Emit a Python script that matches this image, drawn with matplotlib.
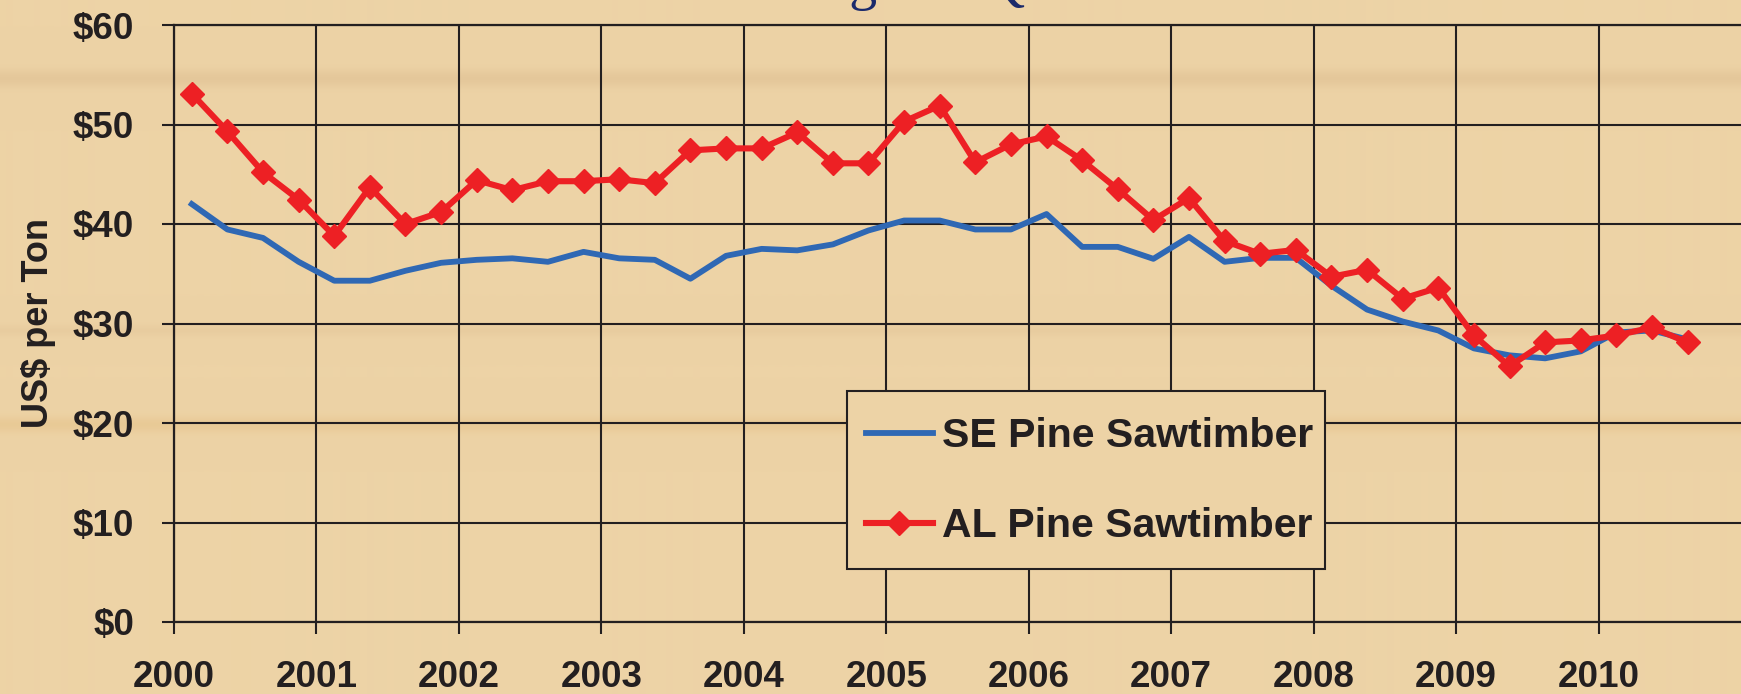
import matplotlib
matplotlib.use("Agg")
import matplotlib.pyplot as plt
from matplotlib.patches import Rectangle
import numpy as np

# ---------------- data ----------------
years = list(range(2000, 2011))
quarter_year = [y for y in range(2000, 2011) for _ in range(4)][:43]
quarter_num = [q for _ in range(2000, 2011) for q in (1, 2, 3, 4)][:43]

se_pine = [42.0, 39.45, 38.6, 36.2,
           34.3, 34.3, 35.3, 36.1,
           36.4, 36.55, 36.2, 37.2,
           36.55, 36.4, 34.5, 36.8,
           37.5, 37.35, 37.95, 39.35,
           40.35, 40.35, 39.45, 39.45,
           41.0, 37.7, 37.7, 36.5,
           38.7, 36.2, 36.6, 36.6,
           33.8, 31.4, 30.2, 29.3,
           27.5, 26.8, 26.5, 27.2,
           29.1, 29.3, 28.4]

al_pine = [53.1, 49.3, 45.2, 42.45,
           38.8, 43.7, 40.0, 41.2,
           44.4, 43.4, 44.3, 44.3,
           44.5, 44.1, 47.4, 47.6,
           47.6, 49.2, 46.1, 46.1,
           50.3, 51.9, 46.2, 48.0,
           48.8, 46.4, 43.5, 40.4,
           42.6, 38.3, 37.0, 37.4,
           34.7, 35.4, 32.5, 33.6,
           28.8, 25.7, 28.1, 28.3,
           28.8, 29.6, 28.1]

y_ticks = [0, 10, 20, 30, 40, 50, 60]
y_tick_labels = ["$0", "$10", "$20", "$30", "$40", "$50", "$60"]
series_names = ["SE Pine Sawtimber", "AL Pine Sawtimber"]
title_text = "Pine Sawtimber Pricing and Quarter Trends"
y_label = "US$ per Ton"

# ---------------- style ----------------
BG = "#EDD3A6"
INK = "#231F20"
BLUE = "#2F68B4"
RED = "#ED2024"
NAVY = "#1B2A6B"
FONT = "Liberation Sans"

W, H = 1741, 694
fig = plt.figure(figsize=(W / 100, H / 100), dpi=100, facecolor=BG)

# subtle wood-grain background bands (vertical colour profile)
bg_ax = fig.add_axes([0, 0, 1, 1], zorder=0)
bg_ax.axis("off")
rows = np.arange(H)
base = np.array([237, 211, 166], dtype=float) / 255.0
dark = np.array([222, 190, 145], dtype=float) / 255.0
orange = np.array([230, 196, 140], dtype=float) / 255.0
prof = np.zeros((H, 1, 3))
w1 = 0.55 * np.exp(-((rows - 78) / 9.0) ** 2)
w2 = 0.60 * np.exp(-((rows - 424) / 8.0) ** 2)
w3 = 0.30 * np.exp(-((rows - 330) / 6.0) ** 2)
for c in range(3):
    prof[:, 0, c] = base[c] * (1 - w1 - w2 - w3) + dark[c] * (w1 + w3) + orange[c] * w2
bg_ax.imshow(prof, aspect="auto", extent=[0, 1, 0, 1], interpolation="bilinear")
bg_ax.set_xlim(0, 1)
bg_ax.set_ylim(0, 1)

left, right, top, bottom = 174, 1741, 25, 622
aw, ah = right - left, bottom - top
ax = fig.add_axes([left / W, 1 - bottom / H, aw / W, ah / H], zorder=1)
ax.patch.set_alpha(0)

x = [qy + (qn - 0.5) / 4.0 for qy, qn in zip(quarter_year, quarter_num)]

ax.plot(x, se_pine, color=BLUE, lw=4.2, label=series_names[0], zorder=3)
ax.plot(x, al_pine, color=RED, lw=4.4, marker="D", ms=12, mec=RED, mew=1,
        label=series_names[1], zorder=4)

ax.set_xlim(2000, 2011)
ax.set_ylim(0, 60)
ax.set_xticks(years)
ax.set_xticklabels([str(y) for y in years])
ax.set_yticks(y_ticks)
ax.set_yticklabels(y_tick_labels)

ax.grid(True, color=INK, lw=1.5, zorder=1)
ax.set_axisbelow(True)
for s in ["left", "bottom", "top"]:
    ax.spines[s].set_color(INK)
    ax.spines[s].set_linewidth(1.6)
ax.spines["right"].set_visible(False)

ax.tick_params(axis="both", direction="out", length=8.6, width=1.5, color=INK,
               labelcolor=INK)
ax.tick_params(axis="y", pad=20)
ax.tick_params(axis="x", pad=19)
for lab in ax.get_xticklabels() + ax.get_yticklabels():
    lab.set_fontfamily(FONT)
    lab.set_fontweight("bold")
    lab.set_fontsize(26.5)

ax.set_ylabel(y_label, fontfamily=FONT, fontweight="bold", fontsize=26, color=INK)
ax.yaxis.set_label_coords(-(left - 56) / aw, 0.5)

# legend frame drawn explicitly to match the original box
frame = Rectangle(((847 - left) / aw, (bottom - 569) / ah), (1325 - 847) / aw, (569 - 391) / ah,
                  transform=ax.transAxes, facecolor=BG, edgecolor=INK, lw=1.5, zorder=4.5)
ax.add_patch(frame)
leg = ax.legend(loc="center left",
                bbox_to_anchor=((866 - left) / aw, (bottom - 481) / ah),
                borderaxespad=0, borderpad=0, frameon=False,
                handlelength=1.63, handletextpad=0.22, labelspacing=1.27,
                prop={"family": FONT, "weight": "bold", "size": 29.5})
leg.set_zorder(5)
for t in leg.get_texts():
    t.set_color(INK)

# title, cropped by the top edge as in the original (only descenders show)
renderer = fig.canvas.get_renderer()
prefix = title_text[:title_text.index("g")]
probe = fig.text(0, 0, prefix, fontfamily="Liberation Serif", fontsize=40)
pw = probe.get_window_extent(renderer).width
probe.remove()
gprobe = fig.text(0, 0, "g", fontfamily="Liberation Serif", fontsize=40)
gw = gprobe.get_window_extent(renderer).width
gprobe.remove()
x_start = (863 - pw - gw / 2) / W
fig.text(x_start, 1 + 1 / H, title_text, fontfamily="Liberation Serif", fontsize=40,
         color=NAVY, ha="left", va="baseline")

fig.savefig("out.png", dpi=100, facecolor=BG)
